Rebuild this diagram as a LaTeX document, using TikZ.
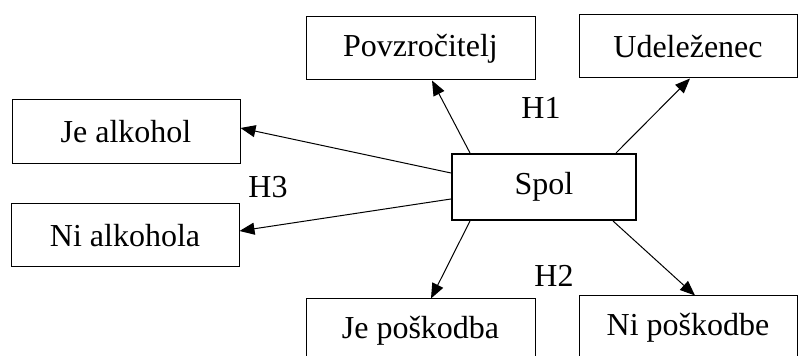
\documentclass[tikz,border=0pt]{standalone}
\usepackage{fontspec}
\setmainfont{Liberation Serif}
\usepackage{tikz}
\usetikzlibrary{arrows.meta}
\usetikzlibrary{positioning}

\begin{document}
\begin{tikzpicture}[x=0.5pt, y=-0.5pt,
box/.style={draw, line width=0.5pt, inner sep=0pt,
font=\fontsize{16}{19}\selectfont},
lbl/.style={inner sep=0pt, font=\fontsize{16}{19}\selectfont},
arr/.style={-{Triangle[length=7.5pt,width=6pt]}, line width=0.5pt}]
\useasboundingbox (0,0) rectangle (798,356);
\node[box, minimum width=114.5pt, minimum height=31.5pt] (povz) at (420.5,48.5) {Povzročitelj};
\node[box, minimum width=109pt, minimum height=31.5pt] (udel) at (688,46.5) {Udeleženec};
\node[box, minimum width=114pt, minimum height=32pt] (jealk) at (126,132) {Je alkohol};
\node[box, minimum width=114pt, minimum height=31.5pt] (nialk) at (125,235.5) {Ni alkohola};
\node[box, line width=1pt, minimum width=92pt, minimum height=33pt] (spol) at (544,187) {Spol};
\node[box, minimum width=114.5pt, minimum height=31.5pt] (jepos) at (420.5,330.5) {Je poškodba};
\node[box, minimum width=109pt, minimum height=31.5pt] (nipos) at (688,327.5) {Ni poškodbe};
\node[lbl] (h1) at (541,108) {H1};
\node[lbl] (h3) at (268,187) {H3};
\node[lbl] (h2) at (554,276) {H2};
\draw[arr] ([xshift=9.5pt]spol.north west) -- ([xshift=5.75pt]povz.south);
\draw[arr] ([xshift=-10.5pt]spol.north east) -- ([xshift=1pt]udel.south);
\draw[arr] ([yshift=7pt]spol.west) -- ([yshift=2pt]jealk.east);
\draw[arr] ([yshift=-6pt]spol.west) -- ([yshift=2.25pt]nialk.east);
\draw[arr] ([xshift=9.5pt]spol.south west) -- ([xshift=5.25pt]jepos.north);
\draw[arr] ([xshift=-12pt]spol.south east) -- ([xshift=3.5pt]nipos.north);
\end{tikzpicture}
\end{document}
